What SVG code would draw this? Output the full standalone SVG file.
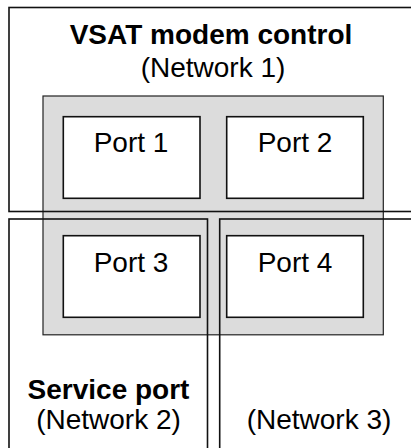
<svg xmlns="http://www.w3.org/2000/svg" width="411" height="448" viewBox="0 0 411 448">
<style>
.net{fill:none;stroke:#111;stroke-width:1.6}
.grey{fill:#dcdcdc;stroke:#222;stroke-width:1.2}
.port{fill:#fff;stroke:#111;stroke-width:1.6}
text{font-family:"Liberation Sans",Arial,sans-serif;font-size:28px;fill:#000;text-anchor:middle}
.b{font-weight:bold}
</style>
<rect x="0" y="0" width="411" height="448" fill="#fff"/>
<g id="module">
<rect class="grey" x="43" y="96" width="340.3" height="238.8"/>
</g>
<g id="network1">
<rect class="net" x="9" y="7.5" width="430" height="204"/>
<text class="b" x="211" y="44">VSAT modem control</text>
<text x="213" y="77">(Network 1)</text>
</g>
<g id="network2">
<rect class="net" x="9" y="219" width="198.5" height="250"/>
<text class="b" x="108.5" y="399">Service port</text>
<text x="108.5" y="428.5">(Network 2)</text>
</g>
<g id="network3">
<rect class="net" x="219.7" y="219" width="250" height="250"/>
<text x="319" y="428.5">(Network 3)</text>
</g>
<g id="port1">
<rect class="port" x="63.3" y="116.7" width="136.7" height="81.6"/>
<text x="131" y="152">Port 1</text>
</g>
<g id="port2">
<rect class="port" x="226.7" y="116.7" width="136.6" height="81.6"/>
<text x="295" y="152">Port 2</text>
</g>
<g id="port3">
<rect class="port" x="63.3" y="235.7" width="136.7" height="81.6"/>
<text x="131" y="271.5">Port 3</text>
</g>
<g id="port4">
<rect class="port" x="226.7" y="235.7" width="136.6" height="81.6"/>
<text x="295" y="271.5">Port 4</text>
</g>
<g id="connectors"/>
</svg>
